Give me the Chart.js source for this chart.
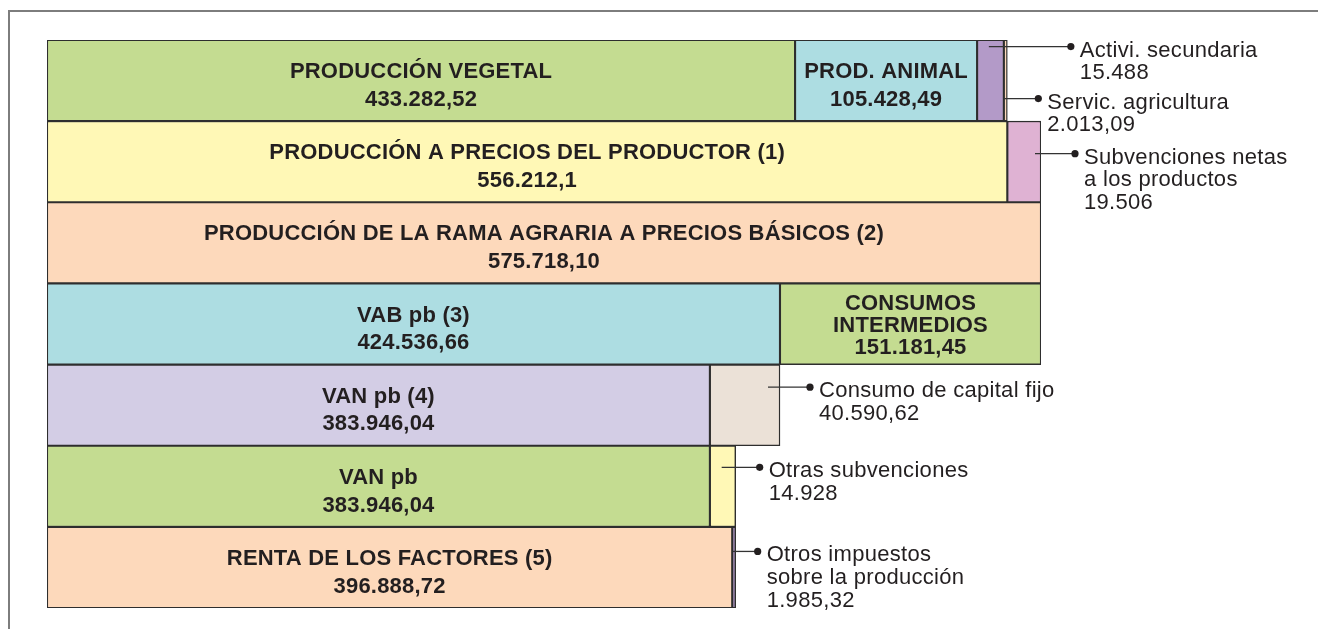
<!DOCTYPE html>
<html lang="es">
<head>
<meta charset="UTF-8">
<title>Producción de la rama agraria</title>
<script src="https://cdn.jsdelivr.net/npm/chart.js"></script>
<style>
  html, body { margin: 0; padding: 0; background: #fff; }
  #wrap { position: relative; width: 1318px; height: 629px; }
  #frame { position: absolute; left: 8px; top: 10px; right: 0; bottom: 0;
           border-left: 2px solid #7d7d7d; border-top: 2px solid #7d7d7d; }
</style>
</head>
<body>
<div id="wrap">
  <div id="frame"></div>
  <canvas id="chart"></canvas>
</div>
<script>
// filas, de arriba abajo
const categories = ['Producción', 'Producción a precios del productor', 'Producción rama agraria pb',
                    'VAB pb', 'VAN pb (4)', 'VAN pb', 'Renta de los factores'];

// primer tramo de cada fila
const seg1Values = [433282.52, 556212.1, 575718.10, 424536.66, 383946.04, 383946.04, 396888.72];
const seg1Text = [
  ['PRODUCCIÓN VEGETAL', '433.282,52'],
  ['PRODUCCIÓN A PRECIOS DEL PRODUCTOR (1)', '556.212,1'],
  ['PRODUCCIÓN DE LA RAMA AGRARIA A PRECIOS BÁSICOS (2)', '575.718,10'],
  ['VAB pb (3)', '424.536,66'],
  ['VAN pb (4)', '383.946,04'],
  ['VAN pb', '383.946,04'],
  ['RENTA DE LOS FACTORES (5)', '396.888,72']
];

// segundo tramo
const seg2Values = [105428.49, 19506, null, 151181.45, 40590.62, 14928, 1985.32];
const seg2Text = [
  ['PROD. ANIMAL', '105.428,49'],
  ['Subvenciones netas', 'a los productos', '19.506'],
  null,
  ['CONSUMOS', 'INTERMEDIOS', '151.181,45'],
  ['Consumo de capital fijo', '40.590,62'],
  ['Otras subvenciones', '14.928'],
  ['Otros impuestos', 'sobre la producción', '1.985,32']
];

// tercer y cuarto tramo (solo primera fila)
const seg3Values = [15488, null, null, null, null, null, null];
const seg3Text = [['Activi. secundaria', '15.488'], null, null, null, null, null, null];
const seg4Values = [2013.09, null, null, null, null, null, null];
const seg4Text = [['Servic. agricultura', '2.013,09'], null, null, null, null, null, null];

// estilos
const palette = {
  green: '#c4dc91', blue: '#addde2', purple: '#b39ac8', peach: '#fdd9bb',
  yellow: '#fff8b6', pink: '#dfb2d3', lavender: '#d3cde5', beige: '#ebe1d7'
};
const seg1Colors = ['green', 'yellow', 'peach', 'blue', 'lavender', 'green', 'peach'];
const seg2Colors = ['blue', 'pink', null, 'green', 'beige', 'yellow', 'purple'];
const seg3Colors = ['purple', null, null, null, null, null, null];
const seg4Colors = ['peach', null, null, null, null, null, null];

// etiquetas exteriores: clave "dataset-fila"
const callouts = {
  '1-1': { dy: -8, inset: 6, reach: 34 },
  '1-4': { dy: -18, inset: 12, reach: 30 },
  '1-5': { dy: -19, inset: 14, reach: 24 },
  '1-6': { dy: -16, inset: 3, reach: 22 },
  '2-0': { dy: -34, inset: 15, reach: 67 },
  '3-0': { dy: 18, inset: 3, reach: 31 }
};

const ink = '#231f20';
const fontFamily = '"Liberation Sans", Arial, sans-serif';

const allSegs = [seg1Values, seg2Values, seg3Values, seg4Values];
const totalMax = Math.max(...categories.map((_, i) => allSegs.reduce((s, a) => s + (a[i] || 0), 0)));

function makeSet(values, colors, texts, name) {
  return {
    label: name,
    data: values,
    texts: texts,
    backgroundColor: colors.map(k => k ? palette[k] : 'transparent'),
    borderColor: '#2e2e2e',
    borderWidth: 1.4,
    borderSkipped: false,
    categoryPercentage: 1,
    barPercentage: 1
  };
}

const labelPlugin = {
  id: 'segLabels',
  afterDatasetsDraw(chart) {
    const ctx = chart.ctx;
    ctx.save();
    ctx.fillStyle = ink;
    ctx.strokeStyle = '#333';
    chart.data.datasets.forEach((ds, di) => {
      const meta = chart.getDatasetMeta(di);
      meta.data.forEach((bar, ri) => {
        const lines = ds.texts[ri];
        if (!lines || ds.data[ri] == null) return;
        const c = callouts[di + '-' + ri];
        if (c) {
          const y = bar.y + c.dy;
          const dotX = bar.x + c.reach;
          ctx.lineWidth = 1.3;
          ctx.beginPath();
          ctx.moveTo(bar.x - c.inset, y);
          ctx.lineTo(dotX, y);
          ctx.stroke();
          ctx.beginPath();
          ctx.arc(dotX, y, 3.6, 0, Math.PI * 2);
          ctx.fill();
          ctx.font = '22px ' + fontFamily;
          ctx.letterSpacing = '0.3px';
          ctx.textAlign = 'left';
          ctx.textBaseline = 'alphabetic';
          lines.forEach((t, k) => ctx.fillText(t, dotX + 9, y + 10 + k * 22.7));
        } else {
          const cx = (bar.x + bar.base) / 2;
          const n = lines.length;
          const lh = n > 2 ? 22.2 : 27.7;
          const shift = n > 2 ? 0.3 : 3.9;
          ctx.font = 'bold 22px ' + fontFamily;
          ctx.letterSpacing = '0.2px';
          ctx.textAlign = 'center';
          ctx.textBaseline = 'alphabetic';
          lines.forEach((t, k) => {
            const yc = bar.y + shift + (k - (n - 1) / 2) * lh;
            ctx.fillText(t, cx, yc + 7.5);
          });
        }
      });
    });
    ctx.restore();
  }
};

new Chart(document.getElementById('chart'), {
  type: 'bar',
  data: {
    labels: categories,
    datasets: [
      makeSet(seg1Values, seg1Colors, seg1Text, 'Tramo 1'),
      makeSet(seg2Values, seg2Colors, seg2Text, 'Tramo 2'),
      makeSet(seg3Values, seg3Colors, seg3Text, 'Tramo 3'),
      makeSet(seg4Values, seg4Colors, seg4Text, 'Tramo 4')
    ]
  },
  options: {
    indexAxis: 'y',
    responsive: true,
    maintainAspectRatio: false,
    animation: false,
    layout: { padding: { left: 47, top: 40, right: 277, bottom: 21 } },
    scales: {
      x: { stacked: true, display: false, min: 0, max: totalMax },
      y: { stacked: true, display: false }
    },
    plugins: { legend: { display: false }, tooltip: { enabled: false } }
  },
  plugins: [labelPlugin]
});
</script>
</body>
</html>
